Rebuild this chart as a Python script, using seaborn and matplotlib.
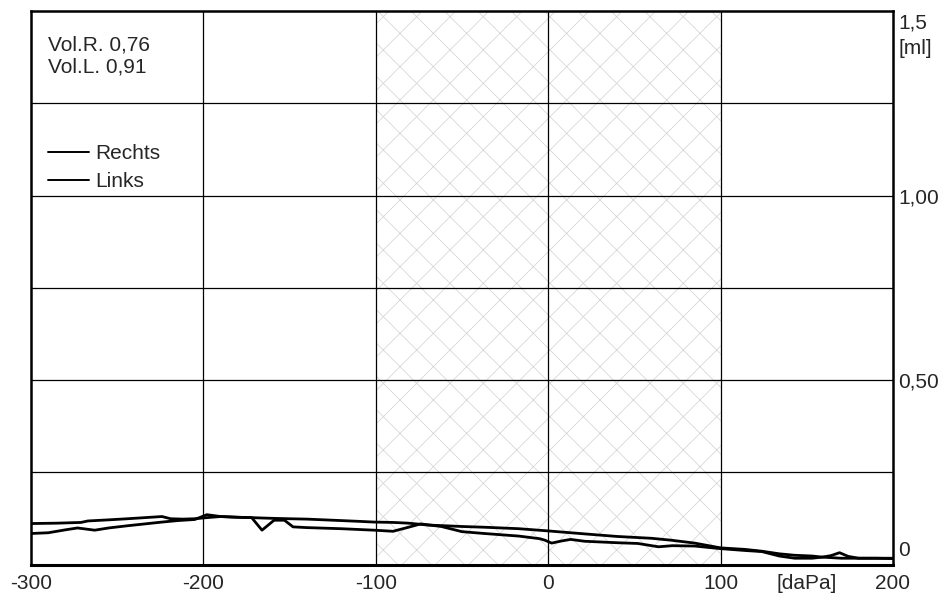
import numpy as np
import pandas as pd
import matplotlib
matplotlib.use("Agg")
import matplotlib.pyplot as plt
import matplotlib.transforms as mtransforms
import seaborn as sns

# Tympanogram curves: pressure [daPa] vs. compliance [ml]
rechts_x = [-300, -285, -271, -267, -255, -244, -234, -224, -219, -212, -205,
            -198, -190, -180, -172, -166, -159, -150, -140, -130, -120, -110,
            -101, -90, -81, -70, -60, -50, -37, -17, 0, 21, 40, 60, 71, 85,
            100, 114, 124, 134, 143, 153, 159, 164, 169, 174, 180, 190, 200]
rechts_y = [0.111, 0.112, 0.114, 0.118, 0.121, 0.124, 0.127, 0.130, 0.124,
            0.123, 0.124, 0.127, 0.130, 0.128, 0.127, 0.126, 0.125, 0.124,
            0.123, 0.121, 0.119, 0.117, 0.115, 0.114, 0.112, 0.107, 0.105,
            0.103, 0.101, 0.097, 0.091, 0.083, 0.076, 0.071, 0.066, 0.058,
            0.045, 0.041, 0.036, 0.029, 0.025, 0.023, 0.020, 0.024, 0.032,
            0.022, 0.017, 0.017, 0.017]

links_x = [-300, -290, -280, -273, -263, -255, -244, -234, -224, -215, -205,
           -198, -190, -180, -172, -166, -159, -153, -148, -140, -120, -101,
           -90, -81, -74, -62, -50, -37, -17, -5, -2, 2, 8, 13, 21, 40, 52,
           64, 72, 85, 100, 114, 124, 134, 143, 153, 159, 170, 180, 190, 200]
links_y = [0.084, 0.086, 0.094, 0.099, 0.093, 0.099, 0.105, 0.110, 0.115,
           0.119, 0.122, 0.135, 0.130, 0.128, 0.127, 0.093, 0.120, 0.120,
           0.102, 0.100, 0.097, 0.093, 0.090, 0.101, 0.110, 0.103, 0.089,
           0.084, 0.077, 0.070, 0.066, 0.058, 0.064, 0.068, 0.063, 0.059,
           0.057, 0.048, 0.051, 0.050, 0.043, 0.038, 0.035, 0.023, 0.017,
           0.017, 0.020, 0.017, 0.017, 0.017, 0.016]

x_ticks = [-300, -200, -100, 0, 100, 150, 200]
x_tick_labels = ["-300", "-200", "-100", "0", "100", "[daPa]", "200"]
y_ticks = [0, 0.5, 1.0, 1.5]
y_tick_labels = ["0", "0,50", "1,00", "1,5\n[ml]"]
x_grid = [-200, -100, 0, 100]
y_grid = [0.25, 0.5, 0.75, 1.0, 1.25]
normal_range = (-100, 100)
volumes = {"Vol.R.": "0,76", "Vol.L.": "0,91"}

df = pd.concat([
    pd.DataFrame({"Druck": rechts_x, "Volumen": rechts_y, "Seite": "Rechts"}),
    pd.DataFrame({"Druck": links_x, "Volumen": links_y, "Seite": "Links"}),
], ignore_index=True)

sns.set_style("white")
plt.rcParams["font.family"] = ["Liberation Sans", "DejaVu Sans"]
plt.rcParams["hatch.linewidth"] = 0.6
plt.rcParams["hatch.color"] = "#d8d8d8"

FS = 15

fig = plt.figure(figsize=(9.41, 5.96), dpi=100)
ax = fig.add_axes([0.03294, 0.05285, 0.91605, 0.92869])

# normal pressure range, hatched
ax.axvspan(*normal_range, facecolor="white", edgecolor="#d8d8d8",
           hatch="x", linewidth=0, zorder=0)

for gx in x_grid:
    ax.axvline(gx, color="black", lw=0.9, zorder=1)
for gy in y_grid:
    ax.axhline(gy, color="black", lw=0.9, zorder=1)

sns.lineplot(data=df, x="Druck", y="Volumen", hue="Seite", sort=False,
             estimator=None, palette={"Rechts": "black", "Links": "black"},
             linewidth=2.0, ax=ax, zorder=3)

ax.set_xlim(-300, 200)
ax.set_ylim(0, 1.5)
ax.set_xlabel("")
ax.set_ylabel("")

ax.set_xticks(x_ticks)
ax.set_xticklabels(x_tick_labels, fontsize=FS)
ax.yaxis.tick_right()
ax.set_yticks(y_ticks)
ax.set_yticklabels(y_tick_labels, fontsize=FS, linespacing=1.4)
ax.tick_params(axis="x", length=0, pad=7)
ax.tick_params(axis="y", length=0, pad=4)
ylabels = ax.get_yticklabels()
ylabels[0].set_va("bottom")
ylabels[-1].set_va("top")
for lab in ylabels:
    lab.set_ha("left")
# lift the zero label slightly, push the top label slightly down
ylabels[0].set_transform(ylabels[0].get_transform() +
                         mtransforms.ScaledTranslation(0, 3 / 72, fig.dpi_scale_trans))
ylabels[-1].set_transform(ylabels[-1].get_transform() +
                          mtransforms.ScaledTranslation(0, -2 / 72, fig.dpi_scale_trans))
xlabels = ax.get_xticklabels()
xlabels[-1].set_x(202)

for side, sp in ax.spines.items():
    sp.set_visible(True)
    sp.set_color("black")
    sp.set_linewidth(1.8)
ax.spines["bottom"].set_linewidth(2.2)

vol_text = "\n".join(f"{k} {v}" for k, v in volumes.items())
ax.text(0.0197, 0.955, vol_text, transform=ax.transAxes, fontsize=FS,
        va="top", ha="left", linespacing=1.18)

handles, labels = ax.get_legend_handles_labels()
for h in handles:
    h.set_linewidth(1.4)
ax.legend(handles, labels, loc="upper left", bbox_to_anchor=(0.0, 0.79),
          frameon=False, fontsize=FS, handlelength=2.0, handletextpad=0.3,
          labelspacing=0.46, borderaxespad=0.4)

fig.savefig("out.png", dpi=100)
